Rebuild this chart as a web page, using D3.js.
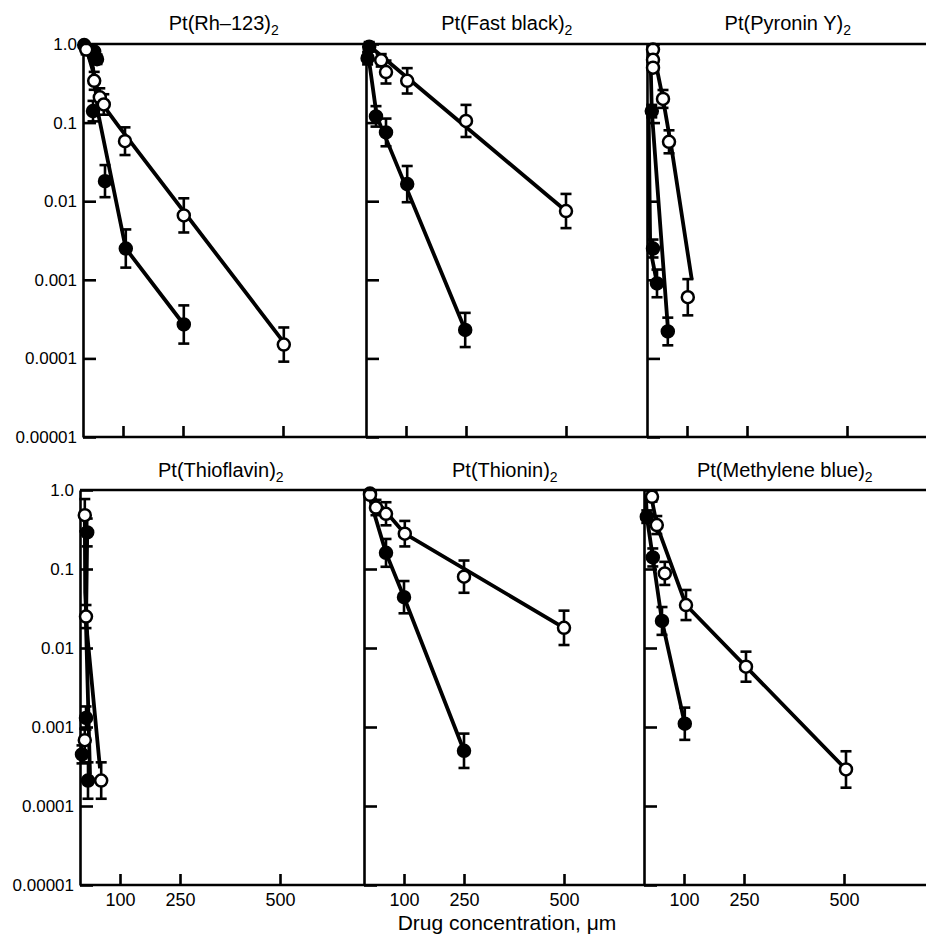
<!DOCTYPE html>
<html>
<head>
<meta charset="utf-8">
<script src="https://cdn.jsdelivr.net/npm/d3@7"></script>
<style>
  body { margin: 0; background: #fff; }
  svg { display: block; font-family: "Liberation Sans", Arial, Helvetica, sans-serif; }
</style>
</head>
<body>
<svg id="chart" width="926" height="936"></svg>
<script>
// panel titles (the "2" is drawn as a subscript)
const titles = ["Pt(Rh\u2013123)", "Pt(Fast black)", "Pt(Pyronin Y)", "Pt(Thioflavin)", "Pt(Thionin)", "Pt(Methylene blue)"];

const yTicks = [0.00001, 0.0001, 0.001, 0.01, 0.1, 1];
const yTickLabels = ["0.00001", "0.0001", "0.001", "0.01", "0.1", "1.0"];
const xTicks = [100, 250, 500];

// points: [concentration, surviving fraction, error factor]
// lines: [concentration, surviving fraction]
const rhOpen = [[8, 0.85, 1.15], [28, 0.34, 1.3], [42, 0.21, 1.3], [52, 0.17, 1.35], [105, 0.058, 1.5], [252, 0.0066, 1.65], [502, 0.00015, 1.65]];
const rhFilled = [[3, 0.97, 1.05], [28, 0.8, 1.1], [35, 0.64, 1.15], [25, 0.14, 1.35], [55, 0.018, 1.6], [107, 0.0025, 1.75], [252, 0.00027, 1.75]];
const rhOpenLine = [[5, 1.0], [28, 0.4], [42, 0.19], [87, 0.093], [502, 0.00016]];
const rhFilledLine = [[3, 1.0], [25, 0.5], [38, 0.13], [107, 0.0025], [252, 0.00027]];

const fbOpen = [[38, 0.62, 1.2], [50, 0.44, 1.4], [103, 0.34, 1.45], [250, 0.105, 1.6], [500, 0.0075, 1.65]];
const fbFilled = [[8, 0.92, 1.15], [4, 0.66, 1.2], [25, 0.12, 1.35], [50, 0.075, 1.5], [103, 0.0165, 1.7], [248, 0.00023, 1.65]];
const fbOpenLine = [[3, 1.0], [500, 0.0075]];
const fbFilledLine = [[3, 0.9], [27, 0.12], [248, 0.00023]];

const pyOpen = [[15, 0.85, 1.1], [15, 0.63, 1.1], [15, 0.5, 1.1], [40, 0.2, 1.3], [55, 0.057, 1.4], [102, 0.0006, 1.7]];
const pyFilled = [[12, 0.14, 1.2], [15, 0.0025, 1.3], [25, 0.0009, 1.5], [52, 0.00022, 1.5]];
const pyOpenLine = [[12, 1.0], [40, 0.2], [62, 0.045], [112, 0.001]];
const pyFilledLine = [[8, 1.0], [12, 0.14], [52, 0.00025]];
const pyFilledLine2 = [[4, 0.14], [8, 0.0025], [25, 0.0009]];

const thOpen = [[12, 0.48, 1.6], [15, 0.025, 1.4], [12, 0.00068, 1.4], [53, 0.00021, 1.7]];
const thFilled = [[18, 0.29, 1.5], [15, 0.0013, 1.4], [5, 0.00045, 1.3], [20, 0.00021, 1.7]];
const thOpenLine = [[12, 0.48], [13, 0.05], [18, 0.015], [50, 0.0003]];
const thFilledLine = [[18, 0.29], [15, 0.02], [25, 0.00025]];

const tnOpen = [[15, 0.87, 1.1], [30, 0.6, 1.25], [55, 0.5, 1.4], [102, 0.28, 1.45], [250, 0.08, 1.6], [500, 0.018, 1.65]];
const tnFilled = [[15, 0.9, 1.1], [55, 0.16, 1.5], [100, 0.044, 1.6], [250, 0.0005, 1.65]];
const tnOpenLine = [[8, 1.0], [102, 0.28], [500, 0.018]];
const tnFilledLine = [[8, 1.0], [55, 0.16], [100, 0.044], [250, 0.0005]];

const mbOpen = [[20, 0.82, 1.15], [32, 0.36, 1.3], [52, 0.088, 1.4], [105, 0.035, 1.55], [255, 0.0058, 1.55], [505, 0.00029, 1.7]];
const mbFilled = [[7, 0.46, 1.2], [22, 0.14, 1.3], [45, 0.022, 1.5], [102, 0.0011, 1.6]];
const mbOpenLine = [[15, 1.0], [32, 0.36], [105, 0.035], [505, 0.00029]];
const mbFilledLine = [[5, 0.8], [7, 0.46], [22, 0.14], [45, 0.022], [102, 0.0011]];

const panels = [
  { open: rhOpen, filled: rhFilled, lines: [rhOpenLine, rhFilledLine] },
  { open: fbOpen, filled: fbFilled, lines: [fbOpenLine, fbFilledLine] },
  { open: pyOpen, filled: pyFilled, lines: [pyOpenLine, pyFilledLine, pyFilledLine2] },
  { open: thOpen, filled: thFilled, lines: [thOpenLine, thFilledLine] },
  { open: tnOpen, filled: tnFilled, lines: [tnOpenLine, tnFilledLine] },
  { open: mbOpen, filled: mbFilled, lines: [mbOpenLine, mbFilledLine] }
];

const svg = d3.select("#chart");

// layout
const rowTop = [44, 490];
const rowBottom = [437, 885];
const colLeft = [[83, 366, 647], [80, 364, 644]];
const panelW = 280;

panels.forEach((p, i) => {
  const row = Math.floor(i / 3), col = i % 3;
  const left = colLeft[row][col];

  const x = d3.scaleLinear().domain([0, 700]).range([left, left + panelW]);
  const y = d3.scaleLog().domain([0.00001, 1]).range([rowBottom[row], rowTop[row]]);

  const g = svg.append("g");

  // y axis, ticks inward
  const yAxis = g.append("g")
    .attr("transform", "translate(" + left + ",0)")
    .call(d3.axisLeft(y).tickValues(yTicks).tickSizeInner(-13).tickSizeOuter(0).tickPadding(6)
      .tickFormat((d, k) => col === 0 ? yTickLabels[k] : ""));
  yAxis.selectAll("path, line").attr("stroke", "#000").attr("stroke-width", 2.6);
  yAxis.selectAll("text").attr("font-size", 17).attr("fill", "#000")
    .attr("font-family", "'Liberation Sans', Arial, sans-serif");

  // x axis, ticks upward
  const xAxis = g.append("g")
    .attr("transform", "translate(0," + rowBottom[row] + ")")
    .call(d3.axisBottom(x).tickValues(xTicks).tickSizeInner(-11).tickSizeOuter(0).tickPadding(8)
      .tickFormat(d => row === 1 ? d : ""));
  xAxis.select(".domain").remove();
  xAxis.selectAll("line").attr("stroke", "#000").attr("stroke-width", 2.6);
  xAxis.selectAll("text").attr("font-size", 18).attr("fill", "#000")
    .attr("font-family", "'Liberation Sans', Arial, sans-serif");

  // title
  const t = g.append("text")
    .attr("x", x(352))
    .attr("y", row === 0 ? 30 : 477)
    .attr("text-anchor", "middle")
    .attr("font-size", 20)
    .text(titles[i]);
  t.append("tspan").attr("font-size", 14).attr("dy", 5).text("2");

  // curves
  const line = d3.line().x(d => x(d[0])).y(d => y(d[1]));
  g.selectAll(".curve")
    .data(p.lines)
    .enter().append("path")
    .attr("class", "curve")
    .attr("d", line)
    .attr("fill", "none")
    .attr("stroke", "#000")
    .attr("stroke-width", 3.8)
    .attr("stroke-linejoin", "round");

  // error bars
  const allPts = p.filled.map(d => ({ d, open: false })).concat(p.open.map(d => ({ d, open: true })));
  const eb = g.selectAll(".err").data(allPts).enter().append("g").attr("class", "err")
    .attr("stroke", "#000").attr("stroke-width", 2.6);
  eb.append("line")
    .attr("x1", e => x(e.d[0])).attr("x2", e => x(e.d[0]))
    .attr("y1", e => y(e.d[1] * e.d[2])).attr("y2", e => y(e.d[1] / e.d[2]));
  eb.append("line")
    .attr("x1", e => x(e.d[0]) - 5.5).attr("x2", e => x(e.d[0]) + 5.5)
    .attr("y1", e => y(e.d[1] * e.d[2])).attr("y2", e => y(e.d[1] * e.d[2]));
  eb.append("line")
    .attr("x1", e => x(e.d[0]) - 5.5).attr("x2", e => x(e.d[0]) + 5.5)
    .attr("y1", e => y(e.d[1] / e.d[2])).attr("y2", e => y(e.d[1] / e.d[2]));

  // markers
  g.selectAll(".pt")
    .data(allPts)
    .enter().append("circle")
    .attr("class", "pt")
    .attr("cx", e => x(e.d[0]))
    .attr("cy", e => y(e.d[1]))
    .attr("r", 6)
    .attr("fill", e => e.open ? "#fff" : "#000")
    .attr("stroke", "#000")
    .attr("stroke-width", 2.5);
});

// top and bottom frame lines across each row
[0, 1].forEach(row => {
  [rowTop[row], rowBottom[row]].forEach(yy => {
    svg.append("line")
      .attr("x1", colLeft[row][0]).attr("x2", 926)
      .attr("y1", yy).attr("y2", yy)
      .attr("stroke", "#000").attr("stroke-width", 2.6);
  });
});

svg.append("text")
  .attr("x", 507)
  .attr("y", 930)
  .attr("text-anchor", "middle")
  .attr("font-size", 21)
  .text("Drug concentration, \u03bcm");
</script>
</body>
</html>
